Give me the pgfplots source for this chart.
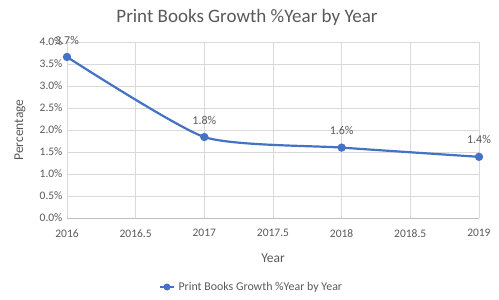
\documentclass[border=0pt]{standalone}
\usepackage{pgfplots}
\pgfplotsset{compat=1.18}
\usepackage{fontspec}
\setmainfont{Carlito}
\definecolor{txt}{HTML}{595959}
\definecolor{grd}{HTML}{D9D9D9}
\definecolor{ln}{HTML}{4472C4}
\begin{document}
\begin{tikzpicture}
\begin{axis}[
  name=ax,
  scale only axis,
  width=412pt, height=176pt,
  xmin=2016, xmax=2019, ymin=0, ymax=4,
  xtick={2016,2016.5,...,2019},
  xticklabels={2016,2016.5,2017,2017.5,2018,2018.5,2019},
  ytick={0,0.5,...,4},
  yticklabels={0.0\%,0.5\%,1.0\%,1.5\%,2.0\%,2.5\%,3.0\%,3.5\%,4.0\%},
  grid=major,
  major grid style={grd, line width=0.6pt},
  axis line style={draw=none},
  axis x line*=bottom,
  x axis line style={draw=grd!70!gray, line width=0.7pt},
  tick style={draw=none},
  ticklabel style={font=\fontsize{11.5}{13}\selectfont, text=txt},
  xticklabel style={yshift=-8pt},
  yticklabel style={xshift=-1pt},
  /pgf/number format/assume math mode=true,
  clip=false,
  nodes near coords,
  point meta=explicit symbolic,
  every node near coord/.style={anchor=center, yshift=17pt, font=\fontsize{12}{14}\selectfont, text=txt},
]
\addplot[ln, line width=2.2pt, smooth, tension=0.35, mark=*, mark size=3pt, mark options={fill=ln, draw=ln}]
  coordinates {(2016,3.66)[3.7\%] (2017,1.84)[1.8\%] (2018,1.6)[1.6\%] (2019,1.39)[1.4\%]};
\end{axis}
\path[use as bounding box] ([shift={(-67pt,-81pt)}]ax.south west) rectangle ([shift={(20pt,42pt)}]ax.north east);
\node[font=\fontsize{19}{22}\selectfont, text=txt] at ([shift={(180pt,25pt)}]ax.north west) {Print Books Growth \%Year by Year};
\node[font=\fontsize{13.5}{15}\selectfont, text=txt, rotate=90] at ([shift={(-47pt,0pt)}]ax.west) {Percentage};
\node[font=\fontsize{13.5}{15}\selectfont, text=txt] at ([shift={(0pt,-40pt)}]ax.south) {Year};
\draw[ln, line width=2.2pt] ([shift={(93pt,-69pt)}]ax.south west) -- ++(14pt,0);
\fill[ln] ([shift={(100pt,-69pt)}]ax.south west) circle (3.5pt);
\node[anchor=west, font=\fontsize{11.9}{13}\selectfont, text=txt] at ([shift={(108pt,-69pt)}]ax.south west) {Print Books Growth \%Year by Year};
\end{tikzpicture}
\end{document}
